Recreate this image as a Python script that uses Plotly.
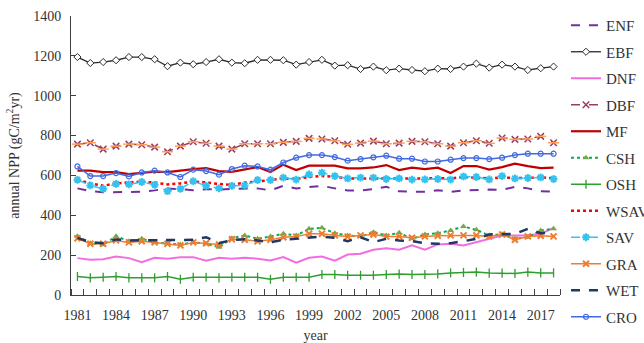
import plotly.graph_objects as go

years = list(range(1981, 2019))

ENF = [535, 521, 515, 515, 515, 518, 525, 535, 531, 526, 531, 529, 533,
       535, 535, 525, 548, 535, 541, 548, 535, 525, 525, 531, 543, 520,
       518, 518, 526, 518, 525, 528, 529, 528, 543, 535, 521, 519]
EBF = [1194, 1164, 1169, 1178, 1194, 1194, 1183, 1148, 1166, 1158, 1169, 1183, 1166,
       1163, 1180, 1180, 1178, 1156, 1169, 1180, 1151, 1153, 1134, 1146, 1128, 1136,
       1129, 1123, 1136, 1134, 1146, 1161, 1141, 1156, 1146, 1129, 1138, 1146]
DNF = [185, 177, 180, 193, 185, 165, 187, 182, 190, 190, 172, 187, 182,
       187, 182, 173, 190, 162, 187, 193, 172, 203, 207, 227, 234, 227,
       249, 227, 254, 257, 249, 265, 282, 299, 299, 299, 307, 337]
DBF = [757, 764, 732, 747, 757, 754, 742, 719, 747, 769, 761, 747, 732,
       759, 759, 759, 766, 771, 786, 783, 774, 756, 762, 772, 759, 762,
       771, 769, 759, 747, 764, 774, 761, 788, 781, 783, 796, 764]
MF = [624, 624, 617, 617, 607, 614, 619, 617, 625, 632, 637, 622, 618,
      629, 642, 617, 654, 627, 649, 649, 649, 635, 635, 640, 652, 627,
      639, 632, 639, 612, 647, 647, 629, 642, 659, 647, 637, 639]
CSH = [295, 260, 252, 295, 270, 282, 264, 260, 253, 265, 257, 240, 285,
       299, 282, 294, 307, 299, 332, 337, 310, 299, 293, 315, 299, 312,
       282, 304, 310, 324, 344, 327, 299, 305, 282, 290, 324, 332]
OSH = [93, 86, 89, 93, 86, 86, 86, 93, 79, 89, 89, 86, 89,
       89, 89, 79, 89, 89, 89, 103, 103, 99, 99, 99, 103, 105,
       103, 103, 106, 111, 113, 115, 110, 110, 108, 115, 111, 111]
WSAV = [577, 560, 548, 560, 565, 569, 564, 555, 560, 569, 565, 557, 553,
        564, 569, 577, 585, 582, 592, 597, 594, 585, 585, 585, 582, 585,
        585, 585, 587, 585, 592, 588, 585, 590, 587, 588, 590, 585]
SAV = [578, 550, 533, 558, 555, 567, 553, 521, 533, 571, 548, 535, 548,
       550, 577, 577, 589, 579, 605, 614, 597, 585, 589, 589, 582, 585,
       579, 580, 582, 579, 595, 592, 580, 597, 585, 587, 590, 582]
GRA = [285, 257, 257, 274, 264, 270, 264, 257, 249, 264, 260, 253, 280,
       277, 270, 277, 290, 293, 307, 307, 299, 293, 299, 304, 293, 294,
       287, 294, 297, 299, 299, 299, 294, 304, 277, 294, 297, 294]
WET = [287, 265, 260, 279, 274, 274, 277, 277, 274, 277, 290, 260, 276,
       280, 274, 265, 277, 282, 290, 293, 287, 270, 290, 265, 282, 274,
       270, 260, 257, 260, 270, 282, 304, 307, 307, 332, 310, 315]
CRO = [645, 597, 597, 612, 595, 615, 624, 615, 592, 629, 622, 604, 632,
       649, 645, 629, 665, 689, 702, 702, 692, 674, 682, 691, 699, 684,
       684, 670, 670, 679, 687, 687, 682, 689, 702, 709, 709, 709]

FONT = "Liberation Serif, Times New Roman, serif"
TXT = "#333333"
AX = "#404040"

W, H = 644, 343
ML, MR, MT, MB = 71, 84, 16, 48

DBF_C = "#9B3D5B"

series = [
    ("ENF", ENF, dict(color="#7030A0", width=2, dash="dash"), None),
    ("EBF", EBF, dict(color="#2b2b2b", width=1.3),
     dict(symbol="diamond", size=5.5, color="white", line=dict(color="#2b2b2b", width=1))),
    ("DNF", DNF, dict(color="#F26EE0", width=2), None),
    ("DBF", DBF, dict(color=DBF_C, width=1.5, dash="dash"),
     dict(symbol="x-thin-open", size=6.5, line=dict(color=DBF_C, width=1.5))),
    ("MF", MF, dict(color="#C00000", width=2.2), None),
    ("CSH", CSH, dict(color="#00B050", width=2, dash="dot"),
     dict(symbol="triangle-up", size=6, color="#77A845")),
    ("OSH", OSH, dict(color="#2E9E2E", width=1.5),
     dict(symbol="line-ns-open", size=6.5, line=dict(color="#2E9E2E", width=1.3))),
    ("WSAV", WSAV, dict(color="#FF0000", width=2.5, dash="dot"), None),
    ("SAV", SAV, dict(color="#33C3F0", width=1.5, dash="dash"),
     dict(symbol="asterisk-open", size=6.5, line=dict(color="#33C3F0", width=2))),
    ("GRA", GRA, dict(color="#ED7D31", width=1.5),
     dict(symbol="x-thin-open", size=6, line=dict(color="#ED7D31", width=2))),
    ("WET", WET, dict(color="#1F3864", width=2.5, dash="dash"), None),
    ("CRO", CRO, dict(color="#4169E1", width=1.5),
     dict(symbol="circle-open", size=5, line=dict(color="#4169E1", width=1.2))),
]

fig = go.Figure()
for name, vals, line, marker in series:
    kw = dict(x=years, y=vals, name=name, line=line, legendgroup=name)
    if marker is None:
        kw["mode"] = "lines"
    else:
        kw["mode"] = "lines+markers"
        kw["marker"] = marker
    fig.add_trace(go.Scatter(**kw))
    if name == "DBF":
        # horizontal bar through each DBF cross, giving the star-shaped marker
        fig.add_trace(go.Scatter(
            x=years, y=vals, mode="markers", legendgroup=name, showlegend=False,
            marker=dict(symbol="line-ew-open", size=8, line=dict(color=DBF_C, width=1.5)),
            hoverinfo="skip",
        ))

# legend position in plot-area (paper) units
pw, ph = W - ML - MR, H - MT - MB
leg_x = (566 - ML) / pw
leg_y = 1 + (MT - 9) / ph

fig.update_layout(
    width=W, height=H, autosize=False,
    margin=dict(l=ML, r=MR, t=MT, b=MB, autoexpand=False),
    paper_bgcolor="white", plot_bgcolor="white",
    font=dict(family=FONT, size=14, color=TXT),
    showlegend=True,
    legend=dict(
        x=leg_x, y=leg_y, xanchor="left", yanchor="top",
        font=dict(family=FONT, size=15, color=TXT),
        tracegroupgap=4, itemwidth=30, maxheight=400,
        bgcolor="rgba(0,0,0,0)",
    ),
)

fig.update_xaxes(
    range=[1980.5, 2018.5],
    tickvals=list(range(1981, 2019, 3)),
    ticks="", automargin=False,
    showline=True, linecolor=AX, linewidth=1,
    showgrid=False, zeroline=False,
    ticklabelstandoff=7,
    tickfont=dict(family=FONT, size=14, color=TXT),
    minor=dict(tick0=1980.5, dtick=1, ticks="inside", ticklen=6,
               tickcolor=AX, tickwidth=1, showgrid=False),
    title=dict(text="year", font=dict(family=FONT, size=14, color=TXT), standoff=12),
)
fig.update_yaxes(
    range=[0, 1400], dtick=200, automargin=False,
    ticks="inside", ticklen=5, tickcolor=AX, tickwidth=1,
    showline=True, linecolor=AX, linewidth=1,
    showgrid=False, zeroline=False,
    ticklabelstandoff=6,
    tickfont=dict(family=FONT, size=14, color=TXT),
    title=dict(text="annual NPP (gC/m<sup>2</sup>yr)",
               font=dict(family=FONT, size=14, color=TXT), standoff=10),
)

fig.write_html("out.html")
